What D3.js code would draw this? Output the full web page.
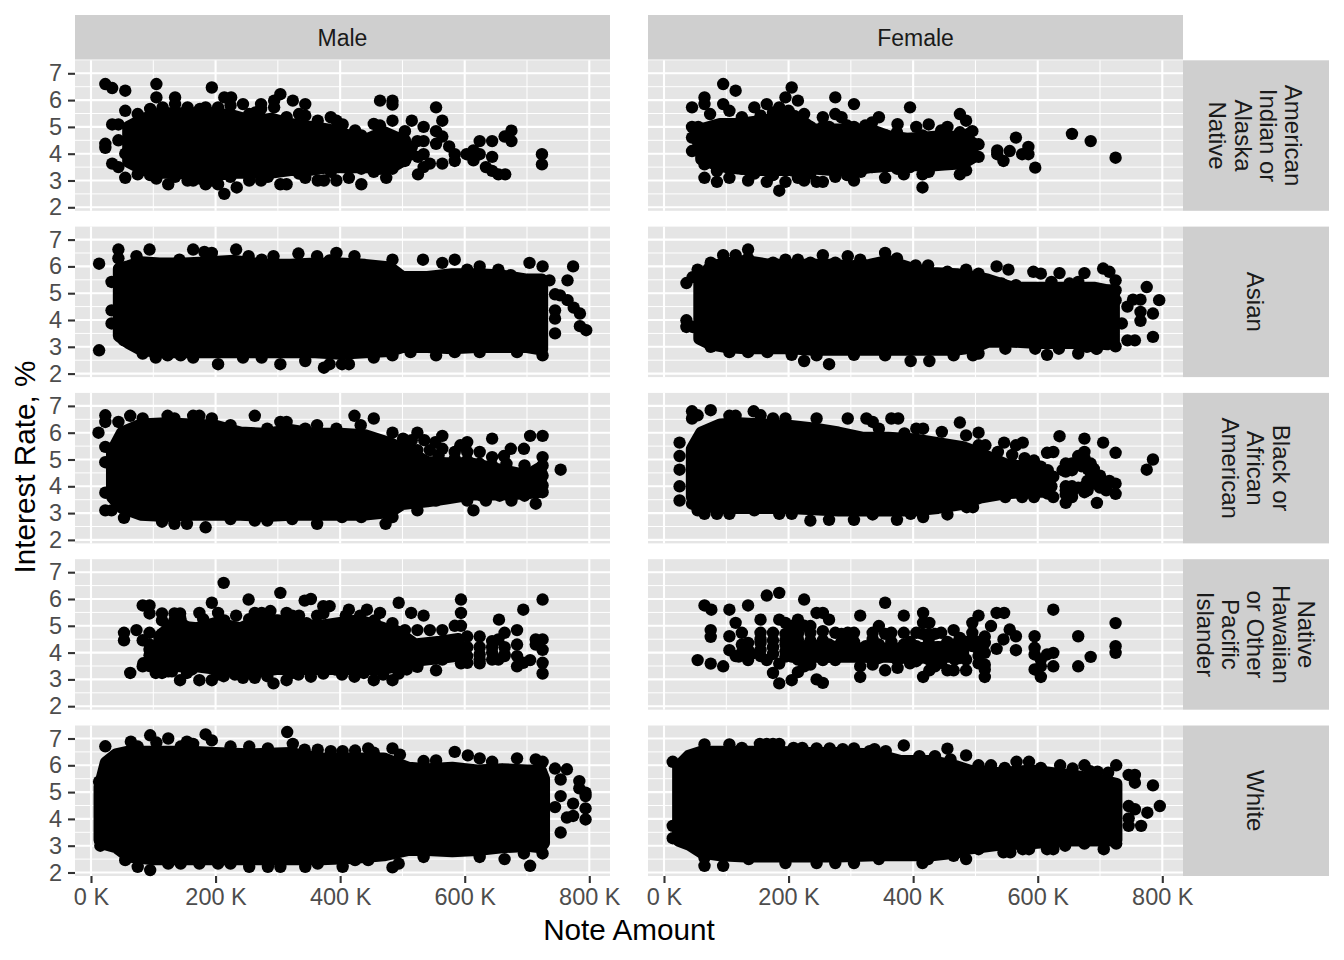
<!DOCTYPE html>
<html><head><meta charset="utf-8">
<script src="https://cdn.jsdelivr.net/npm/d3@7/dist/d3.min.js"></script>
<style>html,body{margin:0;background:#fff}svg{display:block}text{font-family:"Liberation Sans",Arial,sans-serif}</style>
</head><body><div id="c"></div>
<script>
// Values. Clouds: [note amount K, lowest rate, highest rate] of the solid mass; points: [note amount K, rate].
const genders=["Male","Female"];
const raceLines=[["American","Indian or","Alaska","Native"],["Asian"],["Black or","African","American"],["Native","Hawaiian","or Other","Pacific","Islander"],["White"]];
const xTicks=[0,200,400,600,800];
const yTicks=[2,3,4,5,6,7];

const cloudMaleIndian=[[60,3.7,5],[85,3.4,5.3],[110,3.3,5.5],[140,3.3,5.5],[170,3.2,5.5],[200,3.2,5.5],[230,3.3,5.4],[260,3.3,5.2],[290,3.3,5.3],[320,3.4,5.1],[350,3.4,5],[380,3.5,4.9],[410,3.5,4.7],[440,3.5,4.5],[470,3.5,4.8],[490,3.6,4.6],[505,3.8,4.3]];
const pointsMaleIndian=[[23,6.6],[34,6.45],[55,6.35],[105,6.6],[105,6.1],[135,6.1],[194,6.47],[214,6.1],[225,6.1],[244,5.85],[273,5.85],[294,5.98],[304,6.22],[324,5.98],[344,5.85],[464,5.98],[484,5.98],[484,5.83],[554,5.73],[564,5.23],[515,5.23],[484,5.23],[534,5],[554,4.84],[564,4.64],[554,4.37],[575,4.27],[584,3.98],[584,3.73],[564,3.63],[544,3.63],[534,3.5],[525,3.23],[534,3.98],[534,4.47],[524,4.47],[515,3.98],[525,3.88],[504,3.73],[504,4.84],[603,3.98],[614,4.12],[624,4.47],[644,4.47],[624,3.98],[614,3.75],[644,3.88],[634,3.5],[644,3.36],[654,3.23],[665,3.23],[664,4.64],[675,4.86],[675,4.47],[724,3.98],[724,3.6],[23,4.37],[23,4.22],[34,5.09],[44,5.09],[34,3.63],[44,3.5],[55,3.1],[75,3.23],[55,5.6],[44,4.5],[55,4],[124,2.86],[155,3],[164,3],[184,2.86],[204,2.86],[214,2.5],[234,2.74],[254,3],[273,3],[304,2.86],[314,2.86],[344,3.1],[364,3],[374,3],[394,3],[414,3.1],[434,2.86],[454,3.32],[474,3.1],[484,3.44],
[75,5.48],[95,5.67],[115,5.73],[135,5.85],[155,5.73],[175,5.67],[184,5.73],[204,5.73],[224,5.8],[254,5.48],[264,5.54],[273,5.67],[294,5.73],[314,5.36],[334,5.48],[344,5.42],[364,5.23],[385,5.36],[394,5.23],[404,5.09],[424,4.87],[434,4.68],[454,5.11],[464,5.05],[494,4.5],[504,4.5],[515,4.25],[95,3.2],[105,3.07],[135,3.14],[175,3.07],[194,3],[224,3.14],[284,3.14],[334,3.26],[385,3.32],[434,3.44],[464,3.44],[494,3.75]];

const cloudFemaleIndian=[[60,3.8,4.9],[90,3.55,5.1],[120,3.45,5.1],[150,3.4,5.2],[180,3.4,5.3],[210,3.4,5.4],[240,3.45,4.9],[270,3.4,4.9],[300,3.4,4.9],[330,3.5,4.9],[360,3.55,4.65],[390,3.6,4.55],[420,3.55,4.6],[450,3.6,4.65],[480,3.65,4.6],[495,3.85,4.4]];
const pointsFemaleIndian=[[95,6.6],[115,6.35],[65,6.1],[65,5.85],[45,5.73],[95,5.85],[105,5.6],[145,5.73],[165,5.85],[185,5.73],[195,6.1],[205,6.47],[215,5.98],[275,6.1],[305,5.85],[275,5.48],[285,5.36],[255,5.36],[345,5.36],[395,5.73],[375,5.1],[405,5],[425,5.09],[475,5.48],[485,5.23],[495,4.84],[455,5],[445,4.87],[505,4.35],[505,3.88],[485,3.38],[475,3.23],[425,3.32],[415,3.23],[415,2.74],[385,3.23],[355,3.1],[305,3],[255,2.95],[245,2.95],[225,3],[215,3.1],[185,2.62],[195,2.95],[165,2.95],[135,3],[105,3.1],[85,3.35],[85,2.95],[65,3.1],[65,3.6],[45,4.1],[45,5],[535,4.12],[535,3.98],[545,3.73],[555,4.1],[565,4.6],[575,3.98],[585,4.25],[585,3.98],[596,3.48],[655,4.74],[685,4.47],[725,3.85],
[74,5.48],[125,5.36],[155,5.42],[175,5.54],[200,5.6],[225,5.48],[235,5],[255,5],[265,5],[294,5.05],[305,5],[323,5.05],[334,5.17],[356,4.68],[374,4.8],[395,4.5],[415,4.68],[445,4.62],[475,4.8],[489,4.74],[85,3.63],[105,3.44],[125,3.44],[145,3.26],[175,3.2],[205,3.38],[235,3.26],[275,3.14],[294,3.2],[316,3.32],[334,3.5],[374,3.44],[395,3.5],[424,3.5],[455,3.63],[475,3.63],[485,3.88],[495,3.88],[45,4.6],[55,4.68],[55,4.37],[55,5],[65,4]];

const cloudMaleAsian=[[45,3.4,5.9],[60,3.15,6],[80,2.9,6.15],[110,2.8,6.1],[150,2.8,6.1],[190,2.8,6.15],[230,2.8,6.2],[280,2.8,6.05],[320,2.8,6.05],[360,2.8,6.1],[400,2.75,6.1],[440,2.8,6.05],[480,2.85,5.95],[500,3,5.6],[540,3,5.6],[580,2.95,5.7],[620,3,5.7],[660,3,5.65],[700,3,5.5],[724,2.9,5.5]];
const pointsMaleAsian=[[13,6.1],[13,2.87],[44,6.63],[44,6.3],[73,6.38],[94,6.63],[142,6.25],[164,6.63],[182,6.54],[194,6.5],[233,6.63],[253,6.38],[274,6.25],[293,6.38],[333,6.48],[363,6.38],[383,6.22],[394,6.5],[423,6.38],[484,6.25],[533,6.25],[564,6.13],[584,6.25],[604,5.88],[624,6],[654,5.88],[674,5.67],[704,6.13],[725,6],[774,6],[765,5.48],[736,5.48],[745,4.96],[753,4.92],[765,4.74],[775,4.46],[785,4.24],[785,3.77],[795,3.62],[745,4.36],[745,4.05],[745,3.5],[53,3.24],[83,2.75],[104,2.6],[123,2.68],[144,2.68],[164,2.6],[204,2.35],[244,2.6],[274,2.6],[304,2.35],[344,2.47],[374,2.22],[383,2.35],[403,2.35],[414,2.35],[454,2.6],[484,2.68],[513,2.8],[554,2.68],[584,2.8],[624,2.8],[684,2.8],[725,2.68],[33,5.42],[33,4.36],[33,3.87]];

const cloudFemaleAsian=[[57,3.3,5.5],[75,3.1,6],[100,3,6.1],[130,2.95,6.2],[170,2.95,6.05],[200,2.95,6.05],[240,2.9,6.05],[270,2.9,6.05],[300,2.9,6],[330,2.9,6.05],[360,2.9,6.2],[400,2.9,5.9],[430,2.9,5.75],[470,2.9,5.7],[500,3,5.6],[520,3.2,5.5],[560,3.2,5.2],[600,3.15,5.2],[650,3.15,5.2],[690,3.15,5.2],[712,3.1,5.1],[722,3.2,5.1]];
const pointsFemaleAsian=[[36,5.38],[46,5.6],[54,5.88],[75,6.14],[95,6.42],[115,6.42],[135,6.63],[135,6.3],[175,6.14],[195,6.25],[215,6.25],[235,6.14],[255,6.42],[275,6.14],[295,6.38],[315,6.25],[355,6.5],[374,6.3],[404,6.04],[424,6.04],[455,5.8],[485,5.88],[505,5.73],[534,6],[553,5.88],[593,5.8],[605,5.73],[635,5.75],[675,5.75],[705,5.92],[715,5.8],[725,5.48],[775,5.23],[744,4.5],[753,4.76],[765,4.76],[795,4.74],[765,4.3],[765,3.97],[785,4.24],[785,3.37],[744,3.24],[756,3.24],[725,3.02],[735,3.87],[665,2.75],[615,2.7],[496,2.68],[505,2.75],[426,2.47],[396,2.47],[265,2.35],[225,2.47],[205,2.7],[75,3],[105,2.8],[135,2.8],[166,2.8],[245,2.68],[305,2.7],[355,2.68],[465,2.68],[548,2.93],[596,2.93],[695,2.93],[36,3.99],[36,3.74],[46,3.74],[65,3.34],
[542,5.36],[565,5.3],[622,5.42],[651,5.36],[665,5.42],[682,5.17],[702,4.98],[725,5.11],[725,4.74],[708,3.24],[679,3],[694,2.93],[634,2.93]];

const cloudMaleBlack=[[34,3.6,5.3],[50,3.2,6],[80,2.95,6.3],[120,2.9,6.35],[160,2.95,6.3],[200,2.95,6.25],[240,2.95,6],[280,2.9,5.95],[320,2.95,6.1],[360,2.95,5.95],[400,2.95,5.95],[440,2.95,5.9],[480,3.05,5.6],[500,3.35,5.4],[540,3.45,4.9],[570,3.55,4.85],[610,3.7,4.85],[660,3.7,4.6],[700,3.75,4.4],[722,3.8,4.7]];
const pointsMaleBlack=[[23,6.65],[23,6.4],[44,6.4],[63,6.63],[83,6.53],[123,6.63],[134,6.53],[164,6.63],[174,6.63],[194,6.53],[224,6.28],[263,6.63],[283,6.15],[304,6.4],[314,6.4],[344,6.15],[363,6.28],[394,6.15],[423,6.63],[454,6.53],[433,6.28],[484,6],[524,6],[564,5.88],[604,5.65],[584,5.28],[593,5.53],[644,5.78],[624,5.28],[644,5.09],[663,5.13],[674,5.4],[695,5.4],[705,5.88],[725,5.88],[725,5.09],[754,4.62],[725,3.78],[714,3.35],[675,3.47],[634,3.47],[614,3.1],[604,3.47],[574,3.6],[524,3.1],[484,2.85],[473,2.6],[434,2.85],[403,2.85],[363,2.6],[323,2.78],[283,2.72],[263,2.72],[224,2.78],[184,2.47],[154,2.6],[134,2.6],[114,2.68],[53,2.82],[33,3.1],[23,3.1],[23,3.76],[23,4.9],[23,5.47],[12,6],
[501,5.78],[515,5.72],[535,5.72],[553,5.65],[564,5.4],[510,5.47],[524,5.35],[544,5.35],[558,5.15],[584,5.03],[604,4.97],[624,4.84],[644,4.78],[604,5.28],[667,4.84],[696,4.78],[725,4.78],[725,4.4],[714,3.9],[696,3.65],[656,3.65],[627,3.65],[554,3.47],[576,3.6],[510,3.4],[725,4.03]];

const cloudFemaleBlack=[[45,3.6,5.4],[60,3.3,6],[90,3.2,6.3],[120,3.2,6.35],[160,3.2,6.3],[200,3.2,6.25],[240,3.15,6.15],[280,3.1,6],[320,3.1,5.8],[360,3.1,5.8],[400,3.1,5.75],[440,3.2,5.6],[480,3.35,5.45],[510,3.6,5.2],[550,3.75,4.8],[590,3.8,4.7],[615,3.8,4.4]];
const pointsFemaleBlack=[[45,6.8],[45,6.53],[75,6.84],[54,6.65],[105,6.63],[115,6.63],[144,6.8],[155,6.65],[175,6.53],[195,6.53],[245,6.53],[295,6.53],[325,6.53],[335,6.4],[345,6.15],[365,6.53],[376,6.53],[386,5.97],[405,6.15],[416,6.15],[446,6.03],[475,6.38],[485,5.9],[505,6],[546,5.63],[576,5.63],[565,5.53],[615,5.25],[625,5.28],[635,5.87],[675,5.78],[705,5.63],[725,5.25],[675,5.28],[665,5.13],[785,5],[775,4.62],[685,4.85],[645,4.85],[645,4.55],[685,4.5],[645,4],[725,4.1],[725,3.72],[675,4],[675,3.78],[655,3.78],[695,3.38],[645,3.38],[655,3.6],[625,3.6],[594,3.6],[575,3.6],[548,3.6],[496,3.22],[486,3.22],[455,2.95],[416,2.85],[396,2.97],[374,2.75],[335,2.95],[305,2.75],[265,2.75],[235,2.72],[205,2.97],[185,2.97],[145,3.1],[105,2.97],[85,2.97],[65,2.97],[54,3.1],[45,3.35],[25,3.47],[25,4],[25,4.62],[25,5.13],[25,5.63],
[505,5.53],[516,5.53],[536,5.28],[559,5.17],[579,5.05],[594,4.96],[605,4.73],[616,4.6],[625,4.36],[622,4],[616,3.73],[594,3.73],[645,4.7],[655,4.85],[665,4.95],[675,5.05],[655,4.6],[670,4.75],[680,4.65],[640,4.6],[690,4.65],[700,4.4],[715,4.2],[710,4.15],[695,4.15],[680,4.2],[690,4.1],[700,3.95],[710,3.85],[680,3.85],[665,3.95],[655,4],[645,3.85],[645,3.7]];

const cloudMaleHawaiian=[[110,3.5,4.6],[130,3.5,5],[170,3.5,4.9],[200,3.4,5.1],[240,3.4,4.9],[270,3.3,5.2],[300,3.4,5.2],[330,3.4,5],[370,3.4,5],[400,3.4,5.1],[430,3.4,5.2],[470,3.4,4.9],[490,3.5,4.8],[520,3.7,4.3],[560,3.8,4.4],[590,3.9,4.5]];
const pointsMaleHawaiian=[[213,6.6],[304,6.23],[253,5.98],[343,5.94],[353,6],[194,5.86],[83,5.76],[94,5.76],[94,5.46],[114,5.46],[134,5.46],[143,5.46],[174,5.48],[204,5.48],[233,5.38],[274,5.48],[314,5.48],[334,5.38],[373,5.73],[383,5.73],[373,5.46],[414,5.6],[443,5.6],[464,5.48],[494,5.86],[514,5.48],[534,5.38],[484,5.1],[594,5.98],[594,5.48],[655,5.23],[694,5.6],[725,5.98],[684,4.84],[584,5],[594,5],[604,4.6],[624,4.6],[664,4.74],[654,4.49],[644,4.43],[564,4.84],[544,4.84],[524,4.84],[504,4.84],[73,4.84],[53,4.74],[53,4.46],[83,4.46],[94,4.74],[63,3.24],[83,3.49],[104,3.24],[114,3.24],[143,2.97],[154,3.24],[174,2.97],[194,2.97],[213,3.12],[244,3.06],[263,3.06],[293,2.85],[314,2.97],[333,3.18],[353,3.1],[373,3.22],[403,3.18],[423,3.1],[454,2.97],[484,2.97],[494,3.22],[524,3.47],[554,3.34],[594,3.6],[624,3.6],[684,3.49],[694,3.62],[705,3.72],[725,3.22],[725,3.62],[725,4.1],[725,4.49],[714,4.49],[714,4.3],[684,4.3],[684,3.87],[654,3.74],[664,3.93],[644,3.74],[624,3.93],[604,3.62],[594,3.99],[564,3.74],
[94,4.3],[94,4.1],[94,3.9],[104,3.7],[104,3.5],[124,3.3],[84,3.6],[114,4.7],[114,5.2],[124,5],[134,5.2],[144,5.2],[150,5],[154,3.4],[130,3.3],[544,3.8],[524,3.8],[564,4],[584,4],[604,4.2],[624,4.2],[644,4.2],[664,4.2],[644,4],[604,3.87],[624,3.74],[664,3.87],[143,5.3],[180,5.25],[214,5.2],[254,5.25],[263,5.48],[288,5.55],[323,5.38],[346,5.1],[363,5.38],[409,5.38],[432,5.38],[455,5.2],[94,3.5],[122,3.43],[162,3.37],[203,3.18],[231,3.18],[283,3.12],[323,3.24],[392,3.37],[438,3.24],[469,3.18],[507,3.37]];

const cloudFemaleHawaiian=[[205,3.85,4.2],[240,3.85,4.25],[280,3.85,4.2],[320,3.85,4.15],[360,3.85,4.15],[400,3.8,4.15],[440,3.85,4.2],[480,3.85,4.15]];
const pointsFemaleHawaiian=[[65,5.76],[76,5.6],[105,5.6],[135,5.76],[165,6.13],[185,6.23],[225,5.98],[355,5.86],[625,5.6],[725,5.1],[725,4.24],[725,3.99],[665,4.61],[685,3.84],[665,3.49],[625,3.99],[625,3.49],[605,3.09],[595,3.37],[605,3.49],[595,4.61],[595,4.18],[595,3.93],[605,3.74],[615,3.93],[565,4.09],[565,4.61],[555,4.86],[545,4.49],[534,4.14],[525,4.99],[546,5.48],[534,5.48],[505,5.38],[495,5.11],[495,4.74],[515,4.36],[515,3.99],[515,3.55],[515,3.09],[515,3.37],[505,3.87],[485,3.34],[485,3.74],[495,4.24],[465,4.84],[465,3.34],[455,3.34],[445,4.74],[445,4.18],[435,3.49],[416,5.48],[416,5.11],[426,5.11],[405,4.74],[416,3.09],[426,3.34],[405,4.24],[405,3.68],[385,5.38],[385,4.74],[365,4.74],[375,3.43],[355,3.34],[345,4.99],[335,4.74],[315,5.38],[315,3.09],[315,3.49],[335,3.55],[255,2.87],[245,3],[265,5.23],[255,5.48],[245,5.48],[235,4.99],[215,5.23],[205,4.99],[195,5.11],[185,5.23],[175,4.74],[175,4.46],[155,5.23],[155,4.74],[155,4.36],[115,5.11],[125,4.74],[105,4.61],[105,4.09],[75,4.84],[75,4.59],[54,3.72],[75,3.59],[95,3.49],[115,3.87],[135,3.72],[135,4.36],[155,3.87],[165,3.72],[185,3.59],[175,3.24],[185,2.85],[205,2.97],[215,3.27],[225,3.49],[235,3.55],[255,3.72],[275,3.72],[295,3.99],[275,4.74],[295,4.74],[305,4.74],[255,4.46],[215,4.49],[195,4.46],[195,4.05],[215,3.74],[235,4.74],[364,3.99],[335,4.11],[324,4.24],[404,3.74],[445,3.62],[467,3.74],
[125,4.3],[125,4],[120,3.85],[135,4.1],[140,3.95],[155,4.5],[155,4.1],[175,4.2],[175,3.95],[195,4.7],[195,4.3],[195,3.85],[205,4.6],[215,4.9],[215,4.7],[225,5],[235,4.45],[235,4],[245,4.25],[255,4.8],[265,4.3],[265,3.85],[285,4.7],[285,4.4],[295,4.4],[305,4.4],[325,3.85],[335,4.5],[345,4.3],[345,3.8],[355,4.7],[365,4.4],[375,3.7],[385,4.3],[395,4.4],[395,3.6],[415,4.7],[425,4.5],[425,4.7],[435,4.7],[425,3.75],[455,4.4],[465,4.3],[475,4.55],[475,3.8],[485,4.4],[495,4.5],[505,4.4],[505,4.1],[505,3.6],[515,4.6]];

const cloudMaleWhite=[[14,3.2,5.2],[24,3.05,6.1],[40,2.95,6.4],[60,2.6,6.5],[100,2.5,6.5],[160,2.5,6.5],[200,2.5,6.45],[260,2.5,6.4],[320,2.5,6.45],[370,2.5,6.25],[420,2.55,6.25],[470,2.65,6.25],[510,2.85,5.9],[540,2.85,5.85],[580,2.8,5.9],[620,2.85,5.8],[660,2.95,5.85],[700,3,5.8],[722,2.95,5.8],[727,3.1,5.5]];
const pointsMaleWhite=[[23,6.71],[64,6.88],[95,7.12],[124,7],[154,6.88],[184,7.15],[194,6.93],[315,7.24],[324,6.8],[385,6.53],[445,6.63],[484,6.63],[496,6.4],[584,6.5],[605,6.37],[624,6.26],[644,6.13],[684,6.26],[714,6.22],[725,6.13],[745,5.88],[764,5.85],[754,5.47],[784,5.41],[784,5.14],[794,4.98],[794,4.85],[754,4.85],[774,4.57],[745,4.44],[794,4.39],[794,3.98],[774,4.11],[764,4.05],[754,3.49],[725,2.71],[705,2.25],[664,2.5],[695,2.71],[624,2.58],[534,2.58],[494,2.33],[484,2.19],[445,2.46],[424,2.46],[404,2.21],[364,2.33],[344,2.21],[304,2.21],[284,2.21],[254,2.21],[224,2.33],[204,2.33],[174,2.33],[144,2.33],[124,2.33],[95,2.09],[75,2.21],[55,2.46],[15,3],[13,5.39],
[75,6.7],[105,6.85],[144,6.7],[164,6.8],[224,6.7],[254,6.7],[284,6.63],[343,6.58],[364,6.58],[404,6.53],[424,6.55],[454,6.47],[534,6.16],[554,6.18]];

const cloudFemaleWhite=[[23,3.2,5.95],[40,3.05,6.35],[60,2.75,6.5],[90,2.65,6.5],[130,2.6,6.5],[180,2.6,6.5],[230,2.6,6.45],[280,2.6,6.45],[340,2.65,6.4],[380,2.65,6.15],[430,2.65,6.15],[470,2.75,5.95],[490,2.9,5.8],[540,3.05,5.7],[590,3.1,5.8],[640,3.2,5.65],[690,3.2,5.5],[726,3.2,5.3]];
const pointsFemaleWhite=[[65,6.78],[105,6.78],[154,6.8],[165,6.8],[175,6.8],[185,6.8],[245,6.63],[266,6.63],[305,6.63],[356,6.53],[385,6.74],[455,6.62],[485,6.37],[505,6],[525,6],[566,6.13],[586,6.13],[636,6],[656,5.88],[675,6],[696,5.76],[726,6],[746,5.64],[756,5.64],[756,5.35],[785,5.25],[796,4.48],[746,4.48],[756,4.36],[776,4.23],[746,4.02],[746,3.74],[766,3.74],[726,3.08],[706,2.87],[675,3.08],[644,3],[625,2.87],[615,2.87],[586,2.87],[576,2.87],[556,2.75],[545,2.75],[505,2.87],[485,2.5],[465,2.62],[424,2.5],[415,2.35],[345,2.5],[305,2.35],[275,2.35],[245,2.35],[195,2.35],[136,2.5],[95,2.25],[65,2.25],[14,3.28],[14,3.74],[14,6.13],[65,2.55],
[125,6.65],[208,6.65],[222,6.65],[287,6.6],[330,6.53],[338,6.6],[410,6.34],[435,6.34],[460,6.22],[547,5.9],[605,5.9],[684,5.78],[713,5.72]];

const clouds=[[cloudMaleIndian,cloudFemaleIndian],[cloudMaleAsian,cloudFemaleAsian],[cloudMaleBlack,cloudFemaleBlack],[cloudMaleHawaiian,cloudFemaleHawaiian],[cloudMaleWhite,cloudFemaleWhite]];
const points=[[pointsMaleIndian,pointsFemaleIndian],[pointsMaleAsian,pointsFemaleAsian],[pointsMaleBlack,pointsFemaleBlack],[pointsMaleHawaiian,pointsFemaleHawaiian],[pointsMaleWhite,pointsFemaleWhite]];

const W=1344,H=960,R=6.2,panelW=535,panelH=150.5;
const colX=[75,648],rowY=i=>60.3+166.3*i;
const svg=d3.select("#c").append("svg").attr("width",W).attr("height",H);

genders.forEach((g,c)=>{
  svg.append("rect").attr("x",colX[c]).attr("y",15).attr("width",panelW).attr("height",44.5).attr("fill","#cfcfcf");
  svg.append("text").attr("x",colX[c]+panelW/2).attr("y",45.5).attr("text-anchor","middle").attr("font-size",23).attr("fill","#1a1a1a").text(g);
});

raceLines.forEach((lines,r)=>{
  const top=rowY(r);
  svg.append("rect").attr("x",1183).attr("y",top).attr("width",146).attr("height",panelH).attr("fill","#cfcfcf");
  const step=25.4, mid=1256;
  lines.forEach((t,i)=>{
    const x=mid+((lines.length-1)/2-i)*step;
    svg.append("text").attr("transform",`translate(${x},${top+panelH/2}) rotate(90)`).attr("text-anchor","middle").attr("dy","0.36em").attr("font-size",24).attr("fill","#1a1a1a").text(t);
  });
  genders.forEach((g,c)=>{
    const left=colX[c];
    const x=d3.scaleLinear().domain([0,800]).range([left+16,left+514.3]);
    const y=d3.scaleLinear().domain([2,7]).range([top+147,top+13]);
    const p=svg.append("g");
    p.append("rect").attr("x",left).attr("y",top).attr("width",panelW).attr("height",panelH).attr("fill","#e5e5e5");
    const minorX=[100,300,500,700], minorY=[2.5,3.5,4.5,5.5,6.5];
    p.selectAll(".mx").data(minorX).join("line").attr("x1",d=>x(d)).attr("x2",d=>x(d)).attr("y1",top).attr("y2",top+panelH).attr("stroke","#fff").attr("stroke-width",1);
    p.selectAll(".my").data(minorY).join("line").attr("y1",d=>y(d)).attr("y2",d=>y(d)).attr("x1",left).attr("x2",left+panelW).attr("stroke","#fff").attr("stroke-width",1);
    p.selectAll(".jx").data(xTicks).join("line").attr("x1",d=>x(d)).attr("x2",d=>x(d)).attr("y1",top).attr("y2",top+panelH).attr("stroke","#fff").attr("stroke-width",2.1);
    p.selectAll(".jy").data(yTicks).join("line").attr("y1",d=>y(d)).attr("y2",d=>y(d)).attr("x1",left).attr("x2",left+panelW).attr("stroke","#fff").attr("stroke-width",2.1);

    const area=d3.area().x(d=>x(d[0])).y0(d=>y(d[1])).y1(d=>y(d[2]));
    p.append("path").datum(clouds[r][c]).attr("d",area).attr("fill","#000").attr("stroke","#000").attr("stroke-width",2*R).attr("stroke-linejoin","round");
    p.selectAll("circle").data(points[r][c]).join("circle").attr("cx",d=>x(d[0])).attr("cy",d=>y(d[1])).attr("r",R).attr("fill","#000");

    if(c===0){
      const a=svg.append("g").attr("transform",`translate(${left},0)`).call(d3.axisLeft(y).tickValues(yTicks).tickSize(7).tickPadding(6).tickFormat(d3.format("d")));
      a.select(".domain").remove();
      a.selectAll("line").attr("stroke","#333").attr("stroke-width",2.1);
      a.selectAll("text").attr("font-size",23.5).attr("fill","#4d4d4d");
    }
    if(r===raceLines.length-1){
      const a=svg.append("g").attr("transform",`translate(0,${top+panelH})`).call(d3.axisBottom(x).tickValues(xTicks).tickSize(7).tickPadding(5).tickFormat(d=>d+" K"));
      a.select(".domain").remove();
      a.selectAll("line").attr("stroke","#333").attr("stroke-width",2.1);
      a.selectAll("text").attr("font-size",23.5).attr("fill","#4d4d4d");
    }
  });
});

svg.append("text").attr("x",629).attr("y",940).attr("text-anchor","middle").attr("font-size",29.7).attr("fill","#000").text("Note Amount");
svg.append("text").attr("transform","translate(35,467) rotate(-90)").attr("text-anchor","middle").attr("font-size",29.7).attr("fill","#000").text("Interest Rate, %");
</script></body></html>
